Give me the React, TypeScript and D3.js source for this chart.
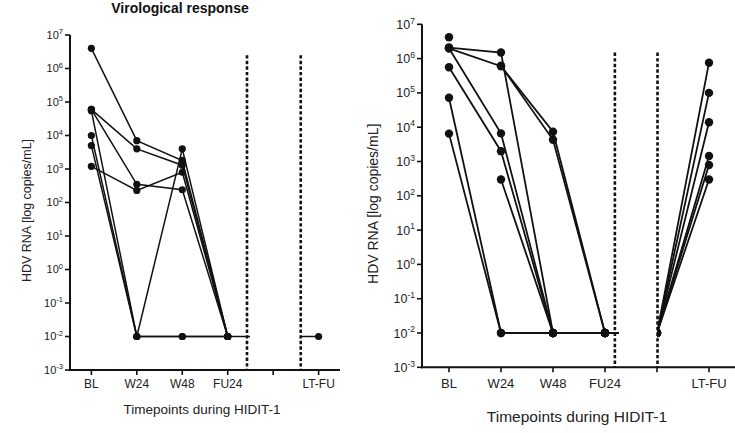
import React from "react";
import * as d3 from "d3";

// ---------- data ----------
const categories = ["BL", "W24", "W48", "FU24", "", "LT-FU"];
const yTickExponents = [-3, -2, -1, 0, 1, 2, 3, 4, 5, 6, 7];
const titleText = "Virological response";
const yLabelText = "HDV RNA [log copies/mL]";
const xLabelText = "Timepoints during HIDIT-1";

// left panel (virological response), per patient, values per category
const leftSeries: (number | null)[][] = [
  [4e6, 7e3, 1.8e3, 0.01, null, null],
  [6e4, 4e3, 1.3e3, 0.01, null, null],
  [6e4, 350, 240, 0.01, null, null],
  [1.2e3, 230, 800, 0.01, null, null],
  [1e4, 0.01, 0.01, 0.01, 0.01, 0.01],
  [5e3, 0.01, 4e3, 0.01, null, null],
  [5.5e4, 0.01, 0.01, 0.01, null, null],
];

// right panel (relapse)
const rightSeries: (number | null)[][] = [
  [2.1e6, 1.5e6, 0.01, 0.01, 0.01, 7.6e5],
  [2.0e6, 6e5, 7.4e3, 0.01, 0.01, 1e5],
  [2.0e6, 6.6e3, 0.01, 0.01, 0.01, 1.4e4],
  [5.6e5, 2e3, 0.01, 0.01, 0.01, 1.45e3],
  [7.2e4, 0.01, 0.01, 0.01, 0.01, 790],
  [6.5e3, 0.01, 0.01, 0.01, 0.01, 300],
  [4.2e6, null, null, null, null, null],
  [null, 6.2e5, 4.3e3, 0.01, 0.01, null],
  [null, 300, 0.01, 0.01, 0.01, null],
];

// ---------- layout ----------
const FONT = "'Liberation Sans', Arial, Helvetica, sans-serif";

type Panel = {
  id: string;
  series: (number | null)[][];
  xDomain: [number, number];
  xRange: [number, number];
  yRange: [number, number];
  gap: [number, number]; // category units: dashed line positions
  gapClipOffset: number;
  dashTop: number;
  tickFont: number;
  supFont: number;
  xTickFont: number;
  yLabelFont: number;
  yLabelX: number;
  xLabelFont: number;
  xLabelX: number;
  xLabelY: number;
  xTickLabelY: number;
  r: number;
  lineW: number;
  title?: string;
};

const panels: Panel[] = [
  {
    id: "L",
    series: leftSeries,
    xDomain: [-0.47, 5.47],
    xRange: [70, 340],
    yRange: [370, 35],
    gap: [3.424, 4.606],
    gapClipOffset: 3,
    dashTop: 2.5e6,
    tickFont: 11,
    supFont: 7.5,
    xTickFont: 12,
    yLabelFont: 12.5,
    yLabelX: 31,
    xLabelFont: 13.5,
    xLabelX: 202,
    xLabelY: 414,
    xTickLabelY: 388,
    r: 3.6,
    lineW: 1.5,
    title: titleText,
  },
  {
    id: "R",
    series: rightSeries,
    xDomain: [-0.519, 5.5],
    xRange: [422, 735],
    yRange: [367.3, 24.3],
    gap: [3.19, 4.01],
    gapClipOffset: 4,
    dashTop: 1.5e6,
    tickFont: 12.5,
    supFont: 8.5,
    xTickFont: 13,
    yLabelFont: 14,
    yLabelX: 378,
    xLabelFont: 15.5,
    xLabelX: 577,
    xLabelY: 422,
    xTickLabelY: 388,
    r: 4.2,
    lineW: 1.8,
  },
];

function PanelView({ p }: { p: Panel }) {
  const x = d3.scaleLinear().domain(p.xDomain).range(p.xRange);
  const y = d3.scaleLog().domain([1e-3, 1e7]).range(p.yRange);
  const yBottom = p.yRange[0];
  const yTop = p.yRange[1];
  const gx0 = x(p.gap[0]);
  const gx1 = x(p.gap[1]);
  const clipId = "clip" + p.id;

  const line = d3
    .line<number | null>()
    .defined((d) => d !== null)
    .x((_, i) => x(i))
    .y((d) => y(d as number));

  return (
    <g>
      <defs>
        <clipPath id={clipId}>
          <rect x={p.xRange[0] - 20} y={0} width={gx0 + p.gapClipOffset - (p.xRange[0] - 20)} height={433} />
          <rect x={gx1} y={0} width={800 - gx1} height={433} />
        </clipPath>
      </defs>

      {/* data */}
      <g clipPath={`url(#${clipId})`}>
        {p.series.map((s, k) => (
          <path key={"l" + k} d={line(s) || ""} fill="none" stroke="#111" strokeWidth={p.lineW} />
        ))}
        {p.series.map((s, k) =>
          s.map((v, i) =>
            v === null ? null : (
              <circle key={`c${k}-${i}`} cx={x(i)} cy={y(v)} r={p.r} fill="#111" />
            )
          )
        )}
      </g>

      {/* dashed break lines */}
      {p.gap.map((g, i) => (
        <line
          key={"d" + i}
          x1={x(g)}
          x2={x(g)}
          y1={y(p.dashTop)}
          y2={yBottom}
          stroke="#111"
          strokeWidth={2.6}
          strokeDasharray="3.4,2.2"
        />
      ))}

      {/* y axis */}
      <line x1={p.xRange[0]} x2={p.xRange[0]} y1={yTop} y2={yBottom + 1} stroke="#111" strokeWidth={2} />
      {yTickExponents.map((e) => (
        <g key={"yt" + e}>
          <line x1={p.xRange[0] - 5} x2={p.xRange[0]} y1={y(Math.pow(10, e))} y2={y(Math.pow(10, e))} stroke="#111" strokeWidth={1.6} />
          <text
            x={p.xRange[0] - 7}
            y={y(Math.pow(10, e)) + p.tickFont * 0.36}
            textAnchor="end"
            fontFamily={FONT}
            fontSize={p.tickFont}
            fill="#222"
          >
            10
            <tspan fontSize={p.supFont} dy={-p.tickFont * 0.42}>
              {e}
            </tspan>
          </text>
        </g>
      ))}

      {/* x axis */}
      <line x1={p.xRange[0] - 1} x2={p.xRange[1]} y1={yBottom} y2={yBottom} stroke="#111" strokeWidth={2} />
      {categories.map((c, i) => (
        <g key={"xt" + i}>
          <line x1={x(i)} x2={x(i)} y1={yBottom} y2={yBottom + 5} stroke="#111" strokeWidth={1.6} />
          <text x={x(i)} y={p.xTickLabelY} textAnchor="middle" fontFamily={FONT} fontSize={p.xTickFont} fill="#222">
            {c}
          </text>
        </g>
      ))}

      {/* labels */}
      <text
        transform={`translate(${p.yLabelX},${(yTop + yBottom) / 2 + 8}) rotate(-90)`}
        textAnchor="middle"
        fontFamily={FONT}
        fontSize={p.yLabelFont}
        fill="#222"
      >
        {yLabelText}
      </text>
      <text x={p.xLabelX} y={p.xLabelY} textAnchor="middle" fontFamily={FONT} fontSize={p.xLabelFont} fill="#222">
        {xLabelText}
      </text>
      {p.title ? (
        <text x={180} y={13} textAnchor="middle" fontFamily={FONT} fontSize={14} fontWeight="bold" fill="#111">
          {p.title}
        </text>
      ) : null}
    </g>
  );
}

export default function App() {
  return (
    <div style={{ position: "absolute", left: 0, top: 0, width: 735, height: 433, background: "#fff" }}>
      <svg width={735} height={433} viewBox="0 0 735 433" style={{ display: "block" }}>
        <rect width={735} height={433} fill="#fff" />
        {panels.map((p) => (
          <PanelView key={p.id} p={p} />
        ))}
      </svg>
    </div>
  );
}
